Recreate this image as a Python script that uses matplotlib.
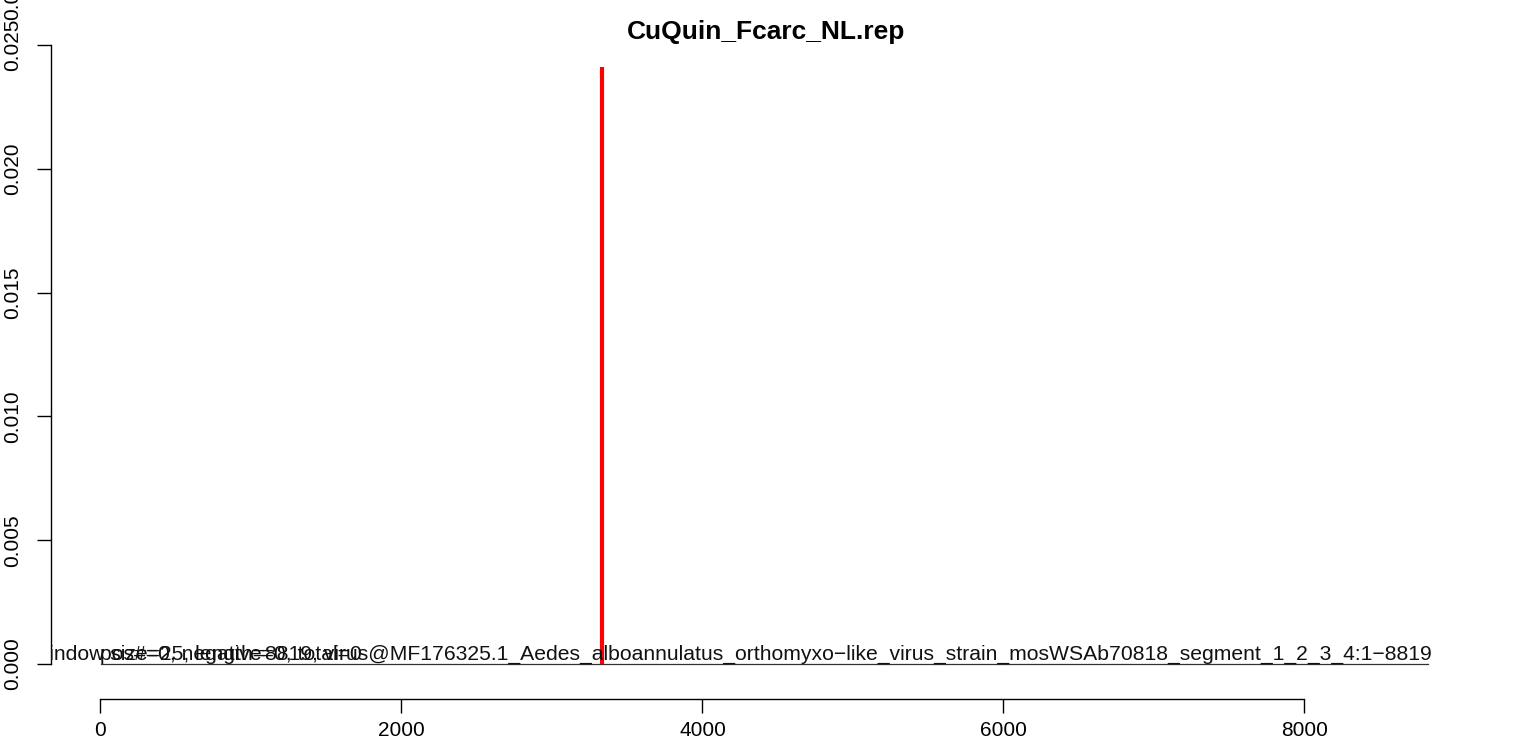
import matplotlib

matplotlib.use("Agg")
import matplotlib.pyplot as plt

plt.rcParams["font.family"] = ["Liberation Sans", "DejaVu Sans"]

# data
title = "CuQuin_Fcarc_NL.rep"
genome_len = 8819
peak_pos = [3333]
peak_val = [0.0241]
base_x = [1, genome_len]
base_y = [0.0, 0.0]
x_ticks = [0, 2000, 4000, 6000, 8000]
y_ticks = [0.000, 0.005, 0.010, 0.015, 0.020, 0.025]
y_labels = ["0.000", "0.005", "0.010", "0.015", "0.020", "0.025"]
info_text = ("window size=25, length=8819, virus@MF176325.1_Aedes_alboannulatus_"
             "orthomyxo\u2212like_virus_strain_mosWSAb70818_segment_1_2_3_4:1\u22128819")
count_text = "pos#=0, negative=0, total=0"

fig = plt.figure(figsize=(15.33, 7.40), dpi=100, facecolor="white")
ax = fig.add_axes([0.0333, 0.0554, 0.9322, 0.8851])
ax.set_xlim(-328, 9167)
ax.set_ylim(-0.001414, 0.02504)

ax.plot(base_x, base_y, color="#333333", lw=0.9)
ax.vlines(peak_pos, 0, peak_val, color="red", lw=3.0, zorder=3)

# overlapping annotation strings along the baseline (clipped at the plot edge)
ax.text(8848, 0.0, info_text, ha="right", va="bottom", fontsize=15.25,
        color="#111111", clip_on=True)
ax.text(x_ticks[0], 0.0, count_text, ha="left", va="bottom", fontsize=15.25,
        color="#111111", clip_on=True)

for s in ["top", "right"]:
    ax.spines[s].set_visible(False)
ax.spines["left"].set_bounds(y_ticks[0], y_ticks[-1])
ax.spines["bottom"].set_bounds(x_ticks[0], x_ticks[-1])
ax.spines["left"].set_linewidth(1.0)
ax.spines["bottom"].set_linewidth(1.0)

ax.set_xticks(x_ticks)
ax.set_xticklabels([str(v) for v in x_ticks], fontsize=15)
ax.set_yticks(y_ticks)
ax.set_yticklabels(y_labels, fontsize=15, rotation=90, va="center")
ax.tick_params(axis="x", length=10, width=1.0, pad=6)
ax.tick_params(axis="y", length=10, width=1.0, pad=11)

# stray overlapping label above the top tick
ax.annotate("0.030", xy=(0, y_ticks[-1]), xycoords=("axes fraction", "data"),
            xytext=(-21, 18), textcoords="offset points", rotation=90,
            ha="right", va="bottom", fontsize=15, annotation_clip=False)

ax.set_title(title, fontsize=19, fontweight="bold", pad=3)

fig.savefig("out.png", dpi=100, facecolor="white")
